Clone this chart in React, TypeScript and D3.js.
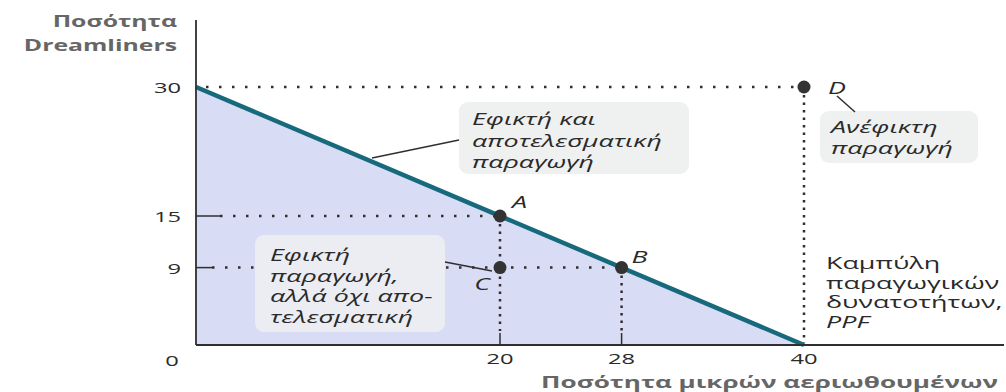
import React from "react";
import * as d3 from "d3";

const ppfX = [0, 40];
const ppfY = [30, 0];
const pointNames = ["A", "B", "C", "D"];
const pointX = [20, 28, 20, 40];
const pointY = [15, 9, 9, 30];
const xTickValues = [20, 28, 40];
const yTickValues = [30, 15, 9];
const xTitle = "Ποσότητα μικρών αεριωθουμένων";
const yTitle = ["Ποσότητα", "Dreamliners"];
const labelEfficient = ["Εφικτή και", "αποτελεσματική", "παραγωγή"];
const labelUnattainable = ["Ανέφικτη", "παραγωγή"];
const labelInefficient = ["Εφικτή", "παραγωγή,", "αλλά όχι απο-", "τελεσματική"];
const labelPPF = ["Καμπύλη", "παραγωγικών", "δυνατοτήτων,", "PPF"];

const W = 1006;
const H = 392;
const font = "'Open Sans', 'Noto Sans', sans-serif";
const S = 1.58; // horizontal stretch of the reference's lettering

type TP = {
  x: number;
  y: number;
  size?: number;
  anchor?: string;
  italic?: boolean;
  bold?: boolean;
  fill?: string;
  sx?: number;
  dy?: string;
  children: React.ReactNode;
};

function T({ x, y, size = 17, anchor = "start", italic, bold, fill = "#2a2a2a", sx = S, dy, children }: TP) {
  return (
    <text
      transform={`translate(${x},${y}) scale(${sx},1)`}
      textAnchor={anchor}
      fontSize={size}
      fontStyle={italic ? "italic" : "normal"}
      fontWeight={bold ? 700 : 400}
      fill={fill}
      dy={dy}
    >
      {children}
    </text>
  );
}

export default function App() {
  const x = d3.scaleLinear().domain([0, 40]).range([196, 804]);
  const y = d3.scaleLinear().domain([0, 30]).range([345, 87]);

  const ppfPts: [number, number][] = ppfX.map((v, i) => [x(v), y(ppfY[i])]);
  const area = d3
    .area<[number, number]>()
    .x((d) => d[0])
    .y0(y(0))
    .y1((d) => d[1])(ppfPts);
  const line = d3.line()(ppfPts);

  const labelOffsets: Record<string, [number, number, string]> = {
    A: [12, -8, "start"],
    B: [10, -5, "start"],
    C: [-10, 22, "end"],
    D: [24, 7, "start"],
  };

  const dotH = "2.5,10.5";
  const dotV = "2.5,5";
  const ink = "#2f2f2f";

  return (
    <svg
      width={W}
      height={H}
      style={{ position: "absolute", left: 0, top: 0, background: "#fff" }}
      fontFamily={font}
    >
      <path d={area || ""} fill="#d9dcf5" />

      {/* dotted guide lines */}
      {pointNames.map((n, i) => {
        if (n === "C") return null;
        const px = x(pointX[i]);
        const py = y(pointY[i]);
        const tickLen = n === "D" ? 0 : n === "A" ? 24 : 16;
        return (
          <g key={"g" + n}>
            {tickLen > 0 && (
              <line x1={x(0)} x2={x(0) + tickLen} y1={py} y2={py} stroke={ink} strokeWidth={1.5} />
            )}
            <line
              x1={x(0) + Math.max(tickLen, 10)}
              x2={px - 6}
              y1={py}
              y2={py}
              stroke={ink}
              strokeWidth={2.5}
              strokeDasharray={dotH}
            />
            <line
              x1={px}
              x2={px}
              y1={py + 8}
              y2={y(0) - (n === "D" ? 2 : 14)}
              stroke={ink}
              strokeWidth={2.5}
              strokeDasharray={dotV}
            />
            {n !== "D" && (
              <line x1={px} x2={px} y1={y(0) - 12} y2={y(0)} stroke={ink} strokeWidth={1.5} />
            )}
          </g>
        );
      })}

      {/* PPF line */}
      <path d={line || ""} stroke="#176a7c" strokeWidth={4.5} fill="none" />

      {/* axes */}
      <line x1={x(0)} x2={x(0)} y1={20} y2={y(0)} stroke={ink} strokeWidth={1.8} />
      <line x1={x(0)} x2={1004} y1={y(0)} y2={y(0)} stroke={ink} strokeWidth={1.8} />

      {/* tick labels */}
      {yTickValues.map((v) => (
        <T key={"yt" + v} x={181} y={y(v) + 1} anchor="end" size={15} dy="0.35em">
          {v}
        </T>
      ))}
      <T x={172} y={361} anchor="middle" size={15} dy="0.35em">
        0
      </T>
      {xTickValues.map((v) => (
        <T key={"xt" + v} x={x(v)} y={359} anchor="middle" size={15} dy="0.35em">
          {v}
        </T>
      ))}

      {/* axis titles */}
      <T x={177} y={27} anchor="end" size={16} bold fill="#666" sx={1.55}>
        {yTitle[0]}
      </T>
      <T x={177} y={51} anchor="end" size={16} bold fill="#666" sx={1.55}>
        {yTitle[1]}
      </T>
      <T x={998} y={388} anchor="end" size={16.5} bold fill="#666" sx={1.58}>
        {xTitle}
      </T>

      {/* annotation: efficient */}
      <rect x={459} y={102} width={230} height={72} rx={9} fill="#eff0f0" />
      <line x1={459} y1={140} x2={372} y2={158} stroke={ink} strokeWidth={1.5} />
      {labelEfficient.map((t, i) => (
        <T key={"e" + i} x={472} y={125 + i * 21.5} italic>
          {t}
        </T>
      ))}

      {/* annotation: unattainable */}
      <rect x={820} y={111} width={158} height={52} rx={9} fill="#eff0f0" />
      <line x1={837} y1={96} x2={855} y2={112} stroke={ink} strokeWidth={1.5} />
      {labelUnattainable.map((t, i) => (
        <T key={"u" + i} x={831} y={133 + i * 21} italic>
          {t}
        </T>
      ))}

      {/* annotation: inefficient */}
      <rect x={255} y={235} width={190} height={97} rx={9} fill="#ecedf2" />
      <line x1={445} y1={262} x2={492} y2={271} stroke={ink} strokeWidth={1.5} />
      {labelInefficient.map((t, i) => (
        <T key={"i" + i} x={270} y={261 + i * 20.5} italic>
          {t}
        </T>
      ))}

      {/* PPF label */}
      {labelPPF.map((t, i) => (
        <T key={"p" + i} x={826} y={269 + i * 19.5} size={16} italic={i === 3} sx={1.68}>
          {t}
        </T>
      ))}

      {/* points */}
      {pointNames.map((n, i) => {
        const px = x(pointX[i]);
        const py = y(pointY[i]);
        const [dx, dy, anchor] = labelOffsets[n];
        return (
          <g key={"p" + n}>
            <circle cx={px} cy={py} r={6.5} fill="#333" />
            <T x={px + dx} y={py + dy} anchor={anchor} italic>
              {n}
            </T>
          </g>
        );
      })}
    </svg>
  );
}
